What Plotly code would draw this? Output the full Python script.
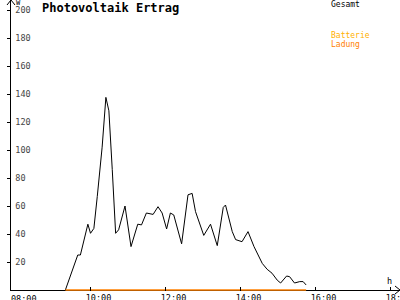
import plotly.graph_objects as go

# Data (time in hours, power in W)
hours = [9.33, 9.66, 9.73, 9.93, 10.0, 10.09, 10.18, 10.31, 10.41, 10.49, 10.58, 10.67,
         10.75, 10.92, 11.08, 11.26, 11.36, 11.49, 11.67, 11.8, 11.91, 12.03, 12.13, 12.22,
         12.43, 12.6, 12.71, 12.8, 13.02, 13.2, 13.38, 13.54, 13.6, 13.78, 13.87, 14.04,
         14.2, 14.36, 14.58, 14.71, 14.84, 14.98, 15.07, 15.23, 15.31, 15.44, 15.58, 15.67, 15.75]
gesamt = [0, 25, 25, 47, 40.5, 44, 66.7, 102, 137.6, 128, 86, 40.5,
          43, 60, 31, 47, 46.5, 55, 54, 59.5, 55, 43.6, 55, 53.6,
          33, 68, 69, 56, 39, 47, 31.7, 59, 60.7, 41.7, 36, 34.5,
          41.7, 31, 19, 14.8, 12, 7, 5, 10, 9.5, 5, 6, 6, 3.6]
ladung = [0] * len(hours)

x_ticks = [8, 10, 12, 14, 16, 18]
x_labels = ["08:00", "10:00", "12:00", "14:00", "16:00", "18:00"]
y_ticks = [20, 40, 60, 80, 100, 120, 140, 160, 180, 200]
y_labels = [str(v) for v in y_ticks]

W, H = 400, 300
L, B = 11, 9
PW, PH = W - L, H - B
YS = 1.4  # px per W


def px(x):
    return (x - L) / PW


def py(y):
    return (PH - y) / PH


mono = "DejaVu Sans Mono"

fig = go.Figure()
fig.add_trace(go.Scatter(x=hours, y=gesamt, mode="lines",
                         line=dict(color="black", width=1), showlegend=False))
fig.add_trace(go.Scatter(x=hours, y=ladung, mode="lines",
                         line=dict(color="#FF8000", width=1.5), showlegend=False))

# first x label is drawn separately (plotly hides it next to the y axis)
axis_text = [""] + x_labels[1:]

fig.update_layout(
    width=W, height=H,
    margin=dict(l=L, r=0, t=0, b=B, pad=0, autoexpand=False),
    paper_bgcolor="white", plot_bgcolor="white",
    font=dict(family=mono, size=8, color="black"),
    xaxis=dict(range=[7.88, 7.88 + PW / 37.5], showgrid=False, zeroline=False,
               showline=False, automargin=False,
               tickvals=x_ticks, ticktext=axis_text, ticks="inside", ticklen=4,
               tickcolor="black", ticklabelshift=8, ticklabelstandoff=0,
               ticklabeloverflow="allow",
               tickfont=dict(family=mono, size=8.5)),
    yaxis=dict(range=[-1 / YS, (PH - 1) / YS], showgrid=False, automargin=False,
               zeroline=True, zerolinecolor="black", zerolinewidth=1,
               showline=True, linecolor="black", linewidth=1,
               tickvals=y_ticks, ticktext=y_labels, ticks="outside", ticklen=3,
               tickcolor="black", ticklabelposition="inside", ticklabelstandoff=3,
               tickfont=dict(family=mono, size=8.5)),
)

fig.add_annotation(text=x_labels[0], x=x_ticks[0], xref="x", y=py(291.5), yref="paper",
                   xanchor="center", yanchor="top", xshift=8, showarrow=False,
                   font=dict(family=mono, size=8.5, color="black"))

# axis arrows
fig.add_shape(type="path", xref="paper", yref="paper",
              path=f"M {px(7)} {py(5)} L {px(11)} {py(0)} L {px(15)} {py(5)}",
              line=dict(color="black", width=1))
fig.add_shape(type="path", xref="paper", yref="paper",
              path=f"M {px(395)} {py(286)} L {px(400)} {py(290)} L {px(395)} {py(294)}",
              line=dict(color="black", width=1))

annos = [
    dict(text="<b>Photovoltaik Ertrag</b>", x=px(40), y=py(8), size=12, color="black"),
    dict(text="W", x=px(14), y=py(3.5), size=7, color="black"),
    dict(text="h", x=px(385), y=py(281), size=8.5, color="black"),
    dict(text="Gesamt", x=px(329), y=py(4.5), size=8, color="black"),
    dict(text="Batterie", x=px(329), y=py(35.5), size=8, color="#FFB000"),
    dict(text="Ladung", x=px(329), y=py(44), size=8, color="#FF8000"),
]
for a in annos:
    fig.add_annotation(text=a["text"], x=a["x"], y=a["y"], xref="paper", yref="paper",
                       xanchor="left", yanchor="middle", showarrow=False,
                       font=dict(family=mono, size=a["size"], color=a["color"]))

fig.write_html("out.html")
